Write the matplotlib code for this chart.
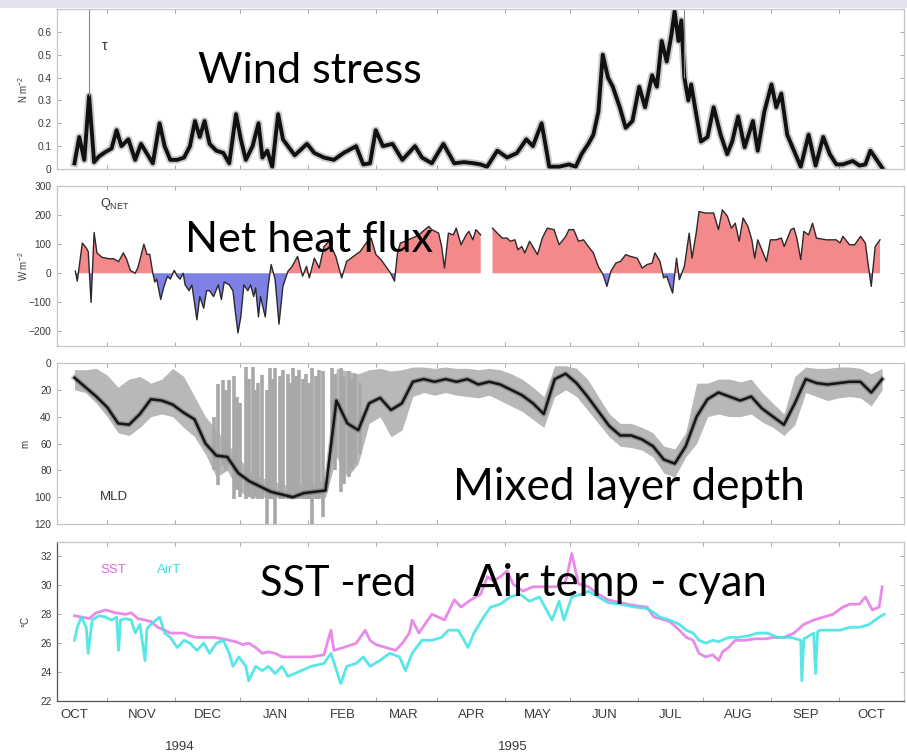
import numpy as np
import matplotlib
matplotlib.use('Agg')
import matplotlib.pyplot as plt
from matplotlib.patches import Rectangle

plt.rcParams['font.family'] = ['Liberation Sans', 'DejaVu Sans']
plt.rcParams['mathtext.fontset'] = 'custom'
plt.rcParams['mathtext.rm'] = 'Liberation Sans'
plt.rcParams['mathtext.it'] = 'Liberation Sans:italic'
plt.rcParams['mathtext.bf'] = 'Liberation Sans:bold'

# ------------------------------------------------------------------ data
# x values are days since 1994-10-01
month_labels = ['OCT', 'NOV', 'DEC', 'JAN', 'FEB', 'MAR', 'APR', 'MAY',
                'JUN', 'JUL', 'AUG', 'SEP', 'OCT']
year_labels = ['1994', '1995']

tau_days = [0, 2.2, 4.5, 6.7, 9, 11.2, 14.3, 17, 19.3, 21.5,
            24.7, 27.8, 30.5, 32.7, 35.9, 39, 41.3, 43.9, 47.1, 50.2,
            52.9, 55.2, 57.4, 59.6, 61.9, 65, 68.2, 70.9, 74, 76.2,
            78.5, 81.6, 84.3, 86.1, 88.3, 90.6, 93.3, 95.5, 97.8, 100.9,
            106.5, 109.9, 114.3, 118.8, 123.3, 129, 132.3, 135.4, 138, 141.3,
            145.7, 150.2, 156, 159.2, 163.7, 169, 174, 178.5, 183, 186,
            189, 193.7, 198.2, 202.7, 207, 210, 214, 215.5, 217.5, 222,
            226.5, 229.6, 232.3, 235.4, 237.7, 240, 242, 244.4, 246.6, 249.8,
            252.5, 255.6, 258.7, 261.4, 264.6, 266.8, 269, 271.3, 273.5, 274.9,
            276.7, 278, 279.4, 281.2, 282.5, 284.8, 287, 290, 292.8, 296,
            299, 301.3, 304, 307, 310.8, 313, 316, 319.3, 321.5, 323.8,
            326.5, 329.6, 332.7, 336.3, 339.5, 343, 346, 349, 352, 356.5,
            359.6, 362.3, 364.6, 366.8, 370]
tau_vals = [0.025, 0.14, 0.04, 0.32, 0.03, 0.055, 0.075, 0.09, 0.17, 0.10,
            0.13, 0.04, 0.11, 0.075, 0.025, 0.20, 0.10, 0.04, 0.04, 0.05,
            0.10, 0.21, 0.14, 0.21, 0.11, 0.08, 0.07, 0.025, 0.24, 0.13,
            0.04, 0.10, 0.20, 0.05, 0.08, 0.01, 0.24, 0.13, 0.10, 0.06,
            0.11, 0.07, 0.05, 0.04, 0.07, 0.10, 0.02, 0.025, 0.17, 0.10,
            0.11, 0.04, 0.10, 0.05, 0.025, 0.11, 0.025, 0.03, 0.025, 0.02,
            0.01, 0.08, 0.05, 0.07, 0.13, 0.10, 0.20, 0.12, 0.01, 0.01,
            0.02, 0.01, 0.065, 0.11, 0.15, 0.25, 0.50, 0.40, 0.36, 0.27,
            0.18, 0.21, 0.36, 0.27, 0.41, 0.36, 0.56, 0.47, 0.59, 0.69,
            0.56, 0.65, 0.40, 0.30, 0.37, 0.24, 0.12, 0.14, 0.27, 0.15,
            0.065, 0.12, 0.23, 0.095, 0.21, 0.08, 0.25, 0.37, 0.27, 0.33,
            0.15, 0.08, 0.01, 0.15, 0.015, 0.14, 0.065, 0.02, 0.02, 0.035,
            0.015, 0.02, 0.08, 0.05, 0.005]
tau_spike_days = [6.7, 279.0]
tau_spike_base = [0.32, 0.40]

q_days = [0.4, 1.3, 2.2, 3.6, 5.4, 6.3, 7.6, 9.0, 10.3, 12.6,
          15.7, 17.9, 20.2, 22.4, 23.8, 25.6, 27.8, 29.1, 31.8, 33.2,
          34.5, 35.9, 36.8, 37.7, 39.5, 40.8, 42.6, 43.9, 45.7, 47.1,
          48.4, 49.8, 50.7, 52.5, 53.8, 56.1, 57.4, 59.2, 60.5, 61.9,
          63.7, 65.9, 67.3, 68.6, 70.9, 72.6, 73.5, 74.9, 76.2, 77.6,
          79.4, 80.7, 82.1, 83.0, 84.3, 85.2, 87.4, 88.8, 90.1,
          91.9, 93.7, 95.5, 97.8, 99.6, 102.2, 104.5, 106.3, 107.6, 109.9,
          112.1, 114.3, 116.6, 119.7, 122.4, 124.7, 127.8, 130.9, 133.6, 135.9,
          138.1, 140.4, 142.6, 144.8, 146.6, 148.0, 149.3, 151.6, 154.7, 157.8,
          160.5, 162.3, 163.7, 166.8, 168.2, 169.5, 171.3, 173.5, 174.9, 177.1,
          179.4, 180.7, 182.5, 183.9, 186.1, 188.5, 191.5, 193.7, 196.0, 198.2,
          199.6, 201.8, 203.1, 204.9, 206.3, 208.5, 210.8, 212.1, 214.3, 216.6,
          219.7, 222.0, 225.1,
          226.5, 228.7, 230.9, 233.2, 235.4, 237.7, 239.9, 242.2, 243.9, 245.7,
          248.0, 250.2, 252.5, 254.7, 257.8, 260.1, 262.3, 264.6, 265.9, 268.2,
          269.9, 271.3, 274.0, 275.8, 277.1, 279.4, 281.6, 282.9, 284.8, 286.1,
          289.2, 292.8, 295.0, 296.8, 299.1, 300.9, 302.7, 304.5, 306.3, 308.5,
          310.3, 311.6, 313.0, 315.2, 317.0, 318.8, 321.5, 323.8, 325.1, 328.2,
          329.6, 330.9, 332.7, 334.1, 336.3, 338.1, 339.9, 344.4, 348.9, 350.7,
          352.0, 355.1, 357.4, 360.1, 362.3, 363.7, 365.0, 366.8, 369.0]
q_vals = [7, -27, 24, 104, 87, 75, -100, 140, 70, 55,
          50, 50, 40, 70, 50, 10, 0, 20, 100, 65,
          65, 0, -30, -20, -90, -50, -10, -20, 10, -10,
          -20, 0, -40, -60, -40, -160, -80, -120, -60, -60,
          -80, -40, -90, -30, -40, -60, -120, -205, -150, -40,
          -60, -40, -80, -50, -150, -80, -150, -40, 30,
          -20, -175, -45, 7, 22, 58, -10, 24, -16, 52,
          18, 92, 110, 58, -16, 41, 58, 75, 104, 121,
          64, 47, 24, 1, -27, 70, 104, 110, 121, 132,
          150, 161, 150, 138, 92, 18, 138, 132, 155, 98,
          132, 144, 115, 150, 132, np.nan, 155, 138, 121, 121,
          110, 115, 81, 92, 70, 110, 81, 64, 121, 155,
          150, 98, 127,
          150, 150, 110, 115, 92, 70, 24, -5, -45, 6,
          35, 41, 64, 58, 52, 18, 30, 35, 70, 41,
          -16, -10, -68, 52, -22, 24, 138, 52, 138, 212,
          207, 207, 150, 218, 196, 155, 172, 110, 190, 161,
          115, 52, 115, 75, 41, 115, 115, 121, 92, 150,
          155, 121, 47, 144, 132, 172, 121, 115, 115, 104,
          127, 98, 98, 127, 104, 24, -45, 92, 115]

mld_days = [0, 5, 10, 15, 20, 25, 30, 35, 40, 45,
            50, 55, 60, 65, 70, 75, 80, 85, 90, 95,
            100, 105, 110, 115, 120, 125, 130, 135, 140, 145,
            150, 155, 160, 165, 170, 175, 180, 185, 190, 195,
            200, 205, 210, 215, 220, 225, 230, 235, 240, 245,
            250, 255, 260, 265, 270, 275, 280, 285, 290, 295,
            300, 305, 310, 315, 320, 325, 330, 335, 340, 345,
            350, 355, 360, 365, 370]
mld_mid = [11, 18, 25, 33, 45, 46, 38, 27, 28, 31,
           37, 42, 60, 69, 70, 82, 88, 92, 96, 98,
           100, 97, 96, 95, 28, 45, 50, 30, 26, 35,
           30, 14, 12, 14, 12, 14, 12, 16, 14, 16,
           20, 24, 30, 38, 12, 8, 15, 25, 36, 47,
           54, 54, 57, 62, 72, 75, 62, 40, 27, 22,
           25, 28, 25, 34, 40, 46, 30, 12, 15, 16,
           15, 14, 14, 22, 12]
mld_shallow = [5, 5, 4, 9, 18, 12, 10, 15, 12, 4,
               10, 25, 40, 50, 60, 70, 80, 85, 88, 90,
               92, 90, 88, 88, 4, 6, 8, 5, 4, 6,
               5, 3, 3, 4, 3, 4, 4, 5, 4, 5,
               8, 12, 18, 25, 2, 2, 4, 12, 25, 38,
               45, 45, 48, 52, 62, 64, 52, 15, 15, 12,
               12, 14, 12, 22, 30, 38, 10, 3, 4, 4,
               3, 3, 4, 8, 4]
mld_deep = [20, 22, 30, 40, 52, 54, 48, 40, 38, 40,
            48, 55, 68, 85, 80, 95, 100, 100, 100, 100,
            100, 100, 100, 100, 70, 85, 75, 45, 40, 55,
            50, 25, 22, 24, 22, 24, 25, 26, 24, 28,
            32, 36, 42, 48, 25, 20, 25, 35, 45, 55,
            62, 63, 65, 70, 82, 85, 70, 60, 40, 38,
            40, 40, 38, 44, 48, 54, 46, 22, 25, 28,
            26, 25, 26, 32, 20]
mld_spike_days = [64.0, 65.9, 68.0, 69.5, 71.0, 73.0, 74.5, 76.0, 78.5, 80.0,
                  81.6, 83.0, 84.0, 86.0, 88.0, 89.7, 91.0, 92.0, 94.0, 95.5,
                  97.8, 99.0, 100.0, 101.5, 103.0, 104.5, 106.0, 107.5, 109.0, 110.5,
                  112.0, 114.0, 118.0, 119.5, 122.0, 123.5, 125.6, 127.0, 128.7, 131.0]
mld_spike_top = [40, 16, 13, 20, 13, 10, 25, 30, 3, 12,
                 3, 20, 15, 9, 20, 4, 12, 4, 10, 5,
                 8, 15, 4, 10, 5, 12, 8, 15, 4, 10,
                 5, 6, 4, 8, 4, 10, 6, 12, 8, 15]
mld_spike_bot = [80, 91, 76, 80, 76, 101, 95, 100, 101, 100,
                 101, 100, 101, 101, 120, 101, 101, 120, 101, 101,
                 101, 101, 101, 101, 101, 101, 101, 101, 120, 101,
                 101, 115, 60, 80, 96, 90, 85, 80, 75, 68]

sst_days = [0, 3.6, 6.7, 9.9, 14.3, 18.8, 23.3, 26, 29.1, 32.3,
            35, 38.1, 41.3, 43.9, 47.1, 50.2, 52.9, 56.1, 59.2, 63.7,
            68.2, 70.9, 74, 77.1, 79.8, 83, 86.1, 88.8, 91.9, 95.1,
            100.9, 108.5, 114.3, 117.5, 118.8, 123.3, 129.1, 133.2, 135.4, 138.1,
            142.6, 147.1, 150.2, 153.4, 154.7, 157.8, 160.5, 163.7, 166.8, 169.5,
            174, 177.1, 181.6, 186.1, 189.2, 191.9, 195.1, 198.2, 200.9, 205.4,
            209.9, 214.3, 220.6, 225.1, 227.8, 230.9, 235.4, 239.9, 244.4, 250.2,
            256.5, 262.3, 265.5, 268.2, 272.6, 277.1, 280.3, 283.4, 286.1, 289.2,
            292.4, 295.1, 296.9, 299.6, 302.7, 307.2, 311.7, 316.1, 320.6, 325.1,
            329.6, 334.1, 338.6, 343, 347.5, 352, 355.2, 359.6, 362.3, 365.5,
            368.6, 370]
sst_vals = [27.9, 27.8, 27.7, 28.1, 28.3, 28.1, 28.0, 28.1, 27.7, 27.6,
            27.5, 27.1, 26.9, 26.7, 26.7, 26.7, 26.5, 26.4, 26.4, 26.4,
            26.3, 26.2, 26.1, 25.9, 26.0, 25.7, 25.3, 25.4, 25.3, 25.05,
            25.05, 25.05, 25.2, 26.9, 25.5, 25.7, 26.0, 26.9, 26.2, 25.9,
            25.7, 25.5, 26.0, 26.7, 27.6, 26.7, 27.3, 28.0, 27.8, 27.6,
            29.0, 28.5, 29.0, 29.4, 30.6, 30.3, 30.6, 31.0, 30.1, 29.6,
            29.9, 29.9, 29.9, 30.3, 32.2, 30.1, 29.9, 29.4, 29.0, 28.8,
            28.6, 28.5, 27.8, 27.7, 27.5, 26.9, 26.4, 26.2, 25.3, 25.05,
            25.2, 24.8, 25.4, 25.7, 26.2, 26.2, 26.3, 26.3, 26.4, 26.4,
            26.7, 27.3, 27.6, 27.8, 28.0, 28.5, 28.7, 28.7, 29.2, 28.3,
            28.5, 29.9]

airt_days = [0, 1.3, 3.1, 5.4, 6.3, 8.1, 11.2, 14.3, 17, 19.3,
             20.2, 21.1, 23.3, 26, 27.8, 30, 32.3, 33.2, 35, 39,
             41.3, 43.9, 47.1, 50.2, 52.9, 56.1, 59.2, 61.9, 65, 68.2,
             70.9, 72.6, 75.3, 78.5, 79.8, 83, 86.1, 88.8, 91.9, 95.1,
             97.8, 100.9, 108.5, 114.3, 117.5, 122, 124.7, 129.1, 132.3, 135.4,
             139.9, 144.4, 148.9, 151.6, 154.7, 159.2, 163.7, 168.2, 171.3, 175.8,
             180.3, 183, 187.4, 190.6, 195.1, 199.6, 204, 208.5, 213, 218.8,
             222, 224.2, 227.8, 232.3, 235.4, 239.9, 244.4, 250.2, 256.5, 262.3,
             265.5, 268.2, 272.6, 277.1, 280.3, 283.4, 286.1, 289.2, 292.4, 295.1,
             299.6, 304, 308.5, 313, 317.5, 322, 328.3, 332.7, 333.2, 334.1,
             335.4, 338.6, 339.5, 340.4, 341.7, 346.2, 350.7, 355.2, 359.6, 364.1,
             368.6, 370.9]
airt_vals = [26.2, 27.1, 27.8, 27.1, 25.3, 27.6, 27.9, 27.8, 27.6, 27.8,
             25.5, 27.6, 27.7, 27.6, 26.7, 27.3, 24.8, 27.0, 27.3, 27.8,
             26.7, 26.4, 25.7, 26.2, 26.0, 25.5, 26.0, 25.3, 26.0, 26.2,
             25.3, 24.4, 25.05, 24.4, 23.4, 24.4, 24.1, 24.4, 23.9, 24.4,
             23.7, 23.9, 24.4, 24.6, 25.3, 23.2, 24.4, 24.6, 25.05, 24.4,
             24.8, 25.3, 25.05, 24.1, 25.3, 26.2, 26.2, 26.4, 26.9, 26.9,
             25.7, 26.7, 27.8, 28.5, 28.7, 29.2, 29.4, 28.9, 29.2, 27.6,
             28.9, 27.6, 29.2, 29.4, 29.6, 29.2, 28.8, 28.7, 28.5, 28.4,
             28.1, 27.8, 27.6, 27.3, 26.9, 26.7, 26.2, 26.0, 26.2, 26.1,
             26.4, 26.4, 26.5, 26.7, 26.7, 26.4, 26.4, 26.2, 23.4, 26.3,
             26.4, 26.7, 23.9, 26.8, 26.9, 26.9, 26.9, 27.1, 27.1, 27.3,
             27.8, 28.0]

# ------------------------------------------------------------------ figure
W, H = 907, 756
fig = plt.figure(figsize=(W / 100, H / 100), dpi=100)
fig.patches.append(Rectangle((0, 1 - 8 / H), 1, 8 / H, transform=fig.transFigure,
                             facecolor='#E3E3EF', edgecolor='none', zorder=0))

def rect(top, bottom):
    return [57 / W, 1 - bottom / H, 847 / W, (bottom - top) / H]

ax1 = fig.add_axes(rect(9, 169))
ax2 = fig.add_axes(rect(186, 346))
ax3 = fig.add_axes(rect(363, 524))
ax4 = fig.add_axes(rect(542, 701))
axes = [ax1, ax2, ax3, ax4]

base = np.datetime64('1994-10-01')
months = np.arange(np.datetime64('1994-10'), np.datetime64('1995-11'), dtype='datetime64[M]')
month_start = (months.astype('datetime64[D]') - base).astype(int)
mid_month = month_start + 15

for ax in axes:
    ax.set_xlim(-8, 372)
    ax.set_xticks(mid_month)
    ax.set_xticklabels([])
    ax.tick_params(which='major', direction='in', length=3, width=0.6,
                   top=True, right=True, color='#999999',
                   labelsize=7.3, labelcolor='#3a3a3a', pad=4)
    for s in ax.spines.values():
        s.set_color('#c4c4c4')
        s.set_linewidth(0.9)

# panel 1: wind stress
ax1.plot(tau_days, tau_vals, color='#555555', lw=5.5, alpha=0.3, solid_joinstyle='round')
ax1.plot(tau_days, tau_vals, color='#111111', lw=2.8, solid_joinstyle='round')
ax1.vlines(tau_spike_days, tau_spike_base, 0.7, color='#888888', lw=0.8)
ax1.set_ylim(0, 0.7)
ax1.set_yticks([0, 0.1, 0.2, 0.3, 0.4, 0.5, 0.6])
ax1.set_yticklabels(['0', '0.1', '0.2', '0.3', '0.4', '0.5', '0.6'])
ax1.set_ylabel('N m$^{-2}$', fontsize=7, color='#3a3a3a')

# panel 2: net heat flux
qd = np.array(q_days, dtype=float)
qv = np.array(q_vals, dtype=float)
ax2.fill_between(qd, qv, 0, where=qv >= 0, interpolate=True, color='#F4898B', lw=0)
ax2.fill_between(qd, qv, 0, where=qv <= 0, interpolate=True, color='#7F80E6', lw=0)
ax2.plot(qd, qv, color='#2a2a2a', lw=1.0)
ax2.set_ylim(-250, 300)
ax2.set_yticks([-200, -100, 0, 100, 200, 300])
ax2.set_yticklabels(['\u2212200', '\u2212100', '0', '100', '200', '300'])
ax2.set_ylabel('W m$^{-2}$', fontsize=7, color='#3a3a3a')

# panel 3: mixed layer depth
ax3.fill_between(mld_days, mld_shallow, mld_deep, color='#B8B8B8', lw=0)
ax3.vlines(mld_spike_days, mld_spike_top, mld_spike_bot, color='#A8A8A8', lw=2.6)
ax3.plot(mld_days, mld_mid, color='#555555', lw=3.8, alpha=0.4)
ax3.plot(mld_days, mld_mid, color='#151515', lw=1.8)
ax3.set_ylim(120, 0)
ax3.set_yticks([0, 20, 40, 60, 80, 100, 120])
ax3.set_ylabel('m', fontsize=7, color='#3a3a3a')

# panel 4: temperatures
ax4.plot(sst_days, sst_vals, color='#E77DE7', lw=2.0, alpha=0.9)
ax4.plot(airt_days, airt_vals, color='#46E4E4', lw=2.0, alpha=0.9)
ax4.set_ylim(22, 33)
ax4.set_yticks([22, 24, 26, 28, 30, 32])
ax4.set_ylabel('\u00b0C', fontsize=7, color='#3a3a3a')
ax4.set_xticks(month_start, minor=True)
ax4.set_xticklabels(month_labels, minor=True)
ax4.tick_params(which='minor', length=0, labelsize=9.5, labelcolor='#3a3a3a', pad=6)
for side in ['bottom', 'left']:
    ax4.spines[side].set_color('#555555')

for ax in axes:
    ax.yaxis.set_label_coords((30 - 57) / 847, 0.5)

# inner labels
fig.text(105 / W, 1 - 46 / H, '\u03c4', ha='center', va='center', fontsize=10, color='#333333')
fig.text(100 / W, 1 - 204 / H, 'Q$_{\\rm NET}$', ha='left', va='center', fontsize=9, color='#333333')
fig.text(100 / W, 1 - 497 / H, 'MLD', ha='left', va='center', fontsize=9.5, color='#333333')
fig.text(100 / W, 1 - 570 / H, 'SST', ha='left', va='center', fontsize=9.5, color='#DE6CDE')
fig.text(157 / W, 1 - 570 / H, 'AirT', ha='left', va='center', fontsize=9.5, color='#3EDCDC')

fig.text(180 / W, 1 - 747 / H, year_labels[0], ha='center', va='center', fontsize=9.5, color='#3a3a3a')
fig.text(513 / W, 1 - 747 / H, year_labels[1], ha='center', va='center', fontsize=9.5, color='#3a3a3a')

# big overlay titles
overlays = [('Wind stress', 198, 83, 224),
            ('Net heat flux', 185, 252, 248),
            ('Mixed layer depth', 453, 500, 351),
            ('SST -red', 260, 596, 156),
            ('Air temp - cyan', 473, 596, 294)]
fig.canvas.draw()
renderer = fig.canvas.get_renderer()
for s, x, y, w in overlays:
    t = fig.text(x / W, 1 - y / H, s, ha='left', va='baseline', fontsize=30,
                 family=['Lato', 'DejaVu Sans'], color='black', zorder=10)
    bb = t.get_window_extent(renderer)
    t.set_fontsize(30 * w / bb.width)

fig.savefig('out.png', dpi=100)
